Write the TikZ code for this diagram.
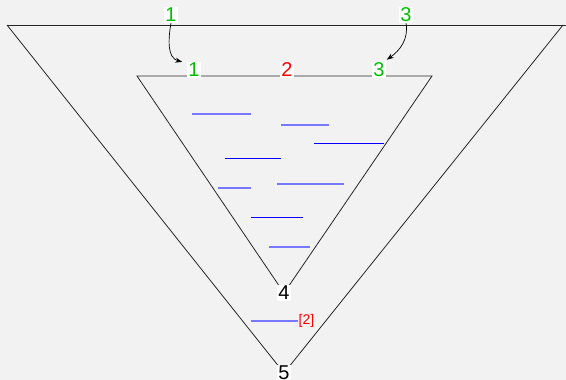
\documentclass[tikz,border=0pt]{standalone}
\usepackage{fontspec}
\setmainfont{Liberation Sans}
\usetikzlibrary{arrows.meta}
\definecolor{bg}{HTML}{F2F2F2}
\definecolor{lgreen}{RGB}{0,190,0}
\definecolor{lblue}{RGB}{120,120,255}
\begin{document}
\begin{tikzpicture}[x=1pt,y=-1pt,
  edge/.style={draw=black!85,line width=0.8pt},
  lab/.style={fill=white,inner sep=1pt,font=\fontsize{20}{20}\selectfont},
  glab/.style={lab,text=lgreen},
  rlab/.style={lab,text=red},
  klab/.style={lab,text=black},
  bl/.style={draw=blue,line width=0.8pt},
  lbl/.style={draw=lblue,line width=1.3pt},
  arr/.style={draw=black,line width=0.7pt,-{Stealth[length=7pt,width=5pt]}}]
\useasboundingbox[fill=bg] (0,0) rectangle (566,380);
% outer triangle
\coordinate (oTL) at (7,25);
\coordinate (oTR) at (566,25);
\coordinate (oR) at (563,25);
\coordinate (oB) at (284,373);
\draw[edge] (oTL) -- (oTR);
\draw[edge] (oTL) -- (oB) -- (oR);
% inner triangle
\coordinate (iTL) at (137,76);
\coordinate (iTR) at (432,76);
\coordinate (iB) at (284,293);
\draw[edge] (iTL) -- (iTR) -- (iB) -- cycle;
% labels
\node[glab] (o1) at (171,15) {1};
\node[glab] (o3) at (406,15) {3};
\node[glab] (i1) at (194,70) {1};
\node[rlab] (i2) at (287,70) {2};
\node[glab] (i3) at (379,70) {3};
\node[klab] (n4) at (284,293) {4};
\node[klab] (n5) at (284,373) {5};
% arrows
\draw[arr] (o1.south) to[out=-100,in=165] ([xshift=-5pt,yshift=0pt]i1.north west);
\draw[arr] (o3.south) to[out=-80,in=35] ([xshift=1pt,yshift=2pt]i3.north east);
% blue lines
\coordinate (a1) at (192,114); \coordinate (b1) at (251,114);
\coordinate (a2) at (281,125); \coordinate (b2) at (329,125);
\coordinate (a3) at (314,143); \coordinate (b3) at (384,143);
\coordinate (a4) at (225,158); \coordinate (b4) at (281,158);
\coordinate (a5) at (218,188); \coordinate (b5) at (251,188);
\coordinate (a6) at (277,184); \coordinate (b6) at (344,184);
\coordinate (a7) at (251,217); \coordinate (b7) at (303,217);
\coordinate (a8) at (269,247); \coordinate (b8) at (310,247);
\draw[lbl] (a1) -- (b1);
\draw[lbl] (a2) -- (b2);
\draw[bl] (a3) -- (b3);
\draw[bl] (a4) -- (b4);
\draw[lbl] (a5) -- (b5);
\draw[lbl] (a6) -- (b6);
\draw[bl] (a7) -- (b7);
\draw[lbl] (a8) -- (b8);
\node[inner sep=0.5pt,text=red,font=\fontsize{14}{14}\selectfont,anchor=west] (r2) at (298,321) {[2]};
\coordinate (a9) at (251,321);
\draw[lbl] (a9) -- (r2.west);
\end{tikzpicture}
\end{document}
